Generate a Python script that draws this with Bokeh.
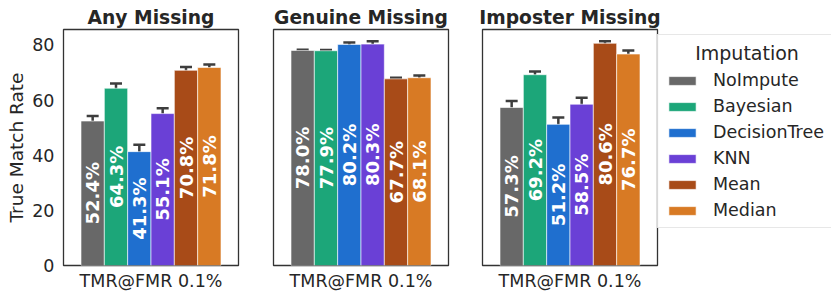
from math import pi
from bokeh.plotting import figure
from bokeh.layouts import row
from bokeh.models import (ColumnDataSource, Range1d, FixedTicker, Whisker, TeeHead,
                          Legend, LegendItem, Title)
from bokeh.core.properties import value
from bokeh.embed import file_html
from bokeh.resources import INLINE

methods = ["NoImpute", "Bayesian", "DecisionTree", "KNN", "Mean", "Median"]
colors = ["#686868", "#1ca679", "#1f6fcf", "#6a40d6", "#a84b18", "#d87a24"]
panels = ["Any Missing", "Genuine Missing", "Imposter Missing"]
category = "TMR@FMR 0.1%"
y_label = "True Match Rate"
legend_title = "Imputation"

any_vals = [52.4, 64.3, 41.3, 55.1, 70.8, 71.8]
any_err = [1.8, 1.7, 2.5, 1.9, 1.2, 1.1]
gen_vals = [78.0, 77.9, 80.2, 80.3, 67.7, 68.1]
gen_err = [0.3, 0.3, 0.7, 1.0, 0.4, 0.8]
imp_vals = [57.3, 69.2, 51.2, 58.5, 80.6, 76.7]
imp_err = [2.4, 1.2, 2.5, 2.3, 0.7, 1.3]

yticks = [0, 20, 40, 60, 80]

FONT = "DejaVu Sans"
TXT = "#262626"
group_w = 0.8
bar_w = group_w / len(methods)
xs = [-group_w / 2 + (i + 0.5) * bar_w for i in range(len(methods))]

def make_panel(title, vals, errs, left, right, first, last):
    p = figure(frame_width=175, frame_height=236, x_range=Range1d(-0.5, 0.5),
               y_range=Range1d(0, 85.6), output_backend="svg", toolbar_location=None,
               min_border_left=left, min_border_right=right, min_border_top=29,
               min_border_bottom=30)
    p.title.text = title
    p.title.align = "center"
    p.title.text_font = FONT
    p.title.text_font_size = "18.7px"
    p.title.text_font_style = "bold"
    p.title.text_color = TXT
    p.title.standoff = 3
    p.title.offset = 0
    p.outline_line_color = "#333333"
    p.outline_line_width = 1.3
    p.grid.visible = False
    p.background_fill_color = "white"
    p.border_fill_color = "white"

    src = ColumnDataSource(dict(
        x=xs, top=vals, method=methods, color=colors,
        lo=[v - e for v, e in zip(vals, errs)], hi=[v + e for v, e in zip(vals, errs)],
        mid=[v / 2 for v in vals], lab=["%.1f%%" % v for v in vals]))
    r = p.vbar(x="x", top="top", width=bar_w, fill_color="color", line_color="white",
               line_alpha=0.6, line_width=1, source=src)
    w = Whisker(base="x", lower="lo", upper="hi", source=src, line_color="#3d3d3d",
                line_width=2.5,
                upper_head=TeeHead(size=12, line_color="#3d3d3d", line_width=2.5),
                lower_head=TeeHead(size=12, line_color="#3d3d3d", line_width=2.5))
    p.add_layout(w)
    p.text(x="x", y="mid", text="lab", source=src, angle=pi / 2, text_align="center",
           text_baseline="middle", text_color="white", text_font=value(FONT),
           text_font_size="18px", text_font_style="bold")

    xa = p.xaxis[0]
    xa.ticker = FixedTicker(ticks=[0])
    xa.major_label_overrides = {0: category}
    xa.major_tick_line_color = None
    xa.major_tick_out = 0
    xa.major_tick_in = 0
    xa.minor_tick_line_color = None
    xa.axis_line_color = None
    xa.major_label_text_font = FONT
    xa.major_label_text_font_size = "17.5px"
    xa.major_label_text_color = TXT
    xa.major_label_standoff = 5

    ya = p.yaxis[0]
    if first:
        ya.ticker = FixedTicker(ticks=yticks)
        ya.major_tick_line_color = None
        ya.major_tick_out = 0
        ya.major_tick_in = 0
        ya.minor_tick_line_color = None
        ya.axis_line_color = None
        ya.major_label_text_font = FONT
        ya.major_label_text_font_size = "17.5px"
        ya.major_label_text_color = TXT
        ya.major_label_standoff = 9
        yt = Title(text=y_label, align="center", text_font=FONT, text_font_size="18.5px",
                   text_font_style="normal", text_color=TXT, standoff=5, offset=0)
        p.add_layout(yt, "left")
    else:
        ya.visible = False

    if last:
        items = [LegendItem(label=m, renderers=[r], index=i) for i, m in enumerate(methods)]
        pad = "\u00a0" * 5
        leg = Legend(items=items, location=(0, 37), title=pad + legend_title)
        leg.title_text_font = FONT
        leg.title_text_font_size = "19px"
        leg.title_text_font_style = "normal"
        leg.title_text_color = TXT
        leg.title_standoff = 6
        leg.label_text_font = FONT
        leg.label_text_font_size = "17.5px"
        leg.label_text_color = TXT
        leg.glyph_width = 34
        leg.glyph_height = 11
        leg.label_height = 20
        leg.spacing = 6
        leg.label_standoff = 14
        leg.padding = 7
        leg.margin = 0
        leg.border_line_color = "#d0d0d0"
        leg.border_line_width = 1
        leg.background_fill_alpha = 0.85
        p.add_layout(leg, "right")
    return p

p1 = make_panel(panels[0], any_vals, any_err, 63, 17, True, False)
p2 = make_panel(panels[1], gen_vals, gen_err, 18, 17, False, False)
p3 = make_panel(panels[2], imp_vals, imp_err, 17, 0, False, True)

layout = row(p1, p2, p3)
open("out.html", "w").write(file_html(layout, INLINE))
